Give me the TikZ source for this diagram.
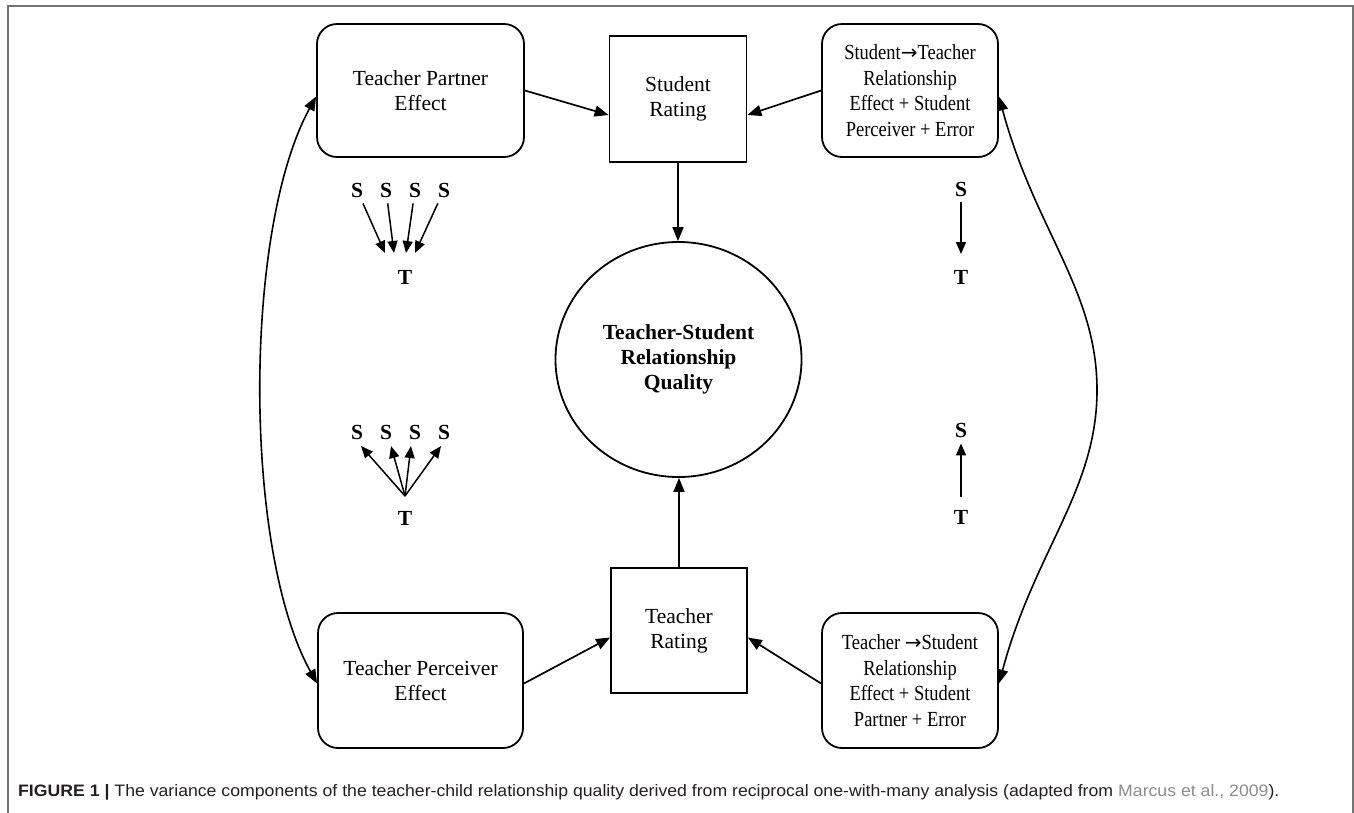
\documentclass[tikz,border=0pt]{standalone}
\usepackage{fontspec}
\usepackage{graphicx}
\setmainfont{Liberation Serif}
\newfontfamily\capfont{Liberation Sans}
\newfontfamily\condfont[FakeStretch=0.86]{Liberation Serif}
\newfontfamily\arrowfont{DejaVu Sans}
\newcommand{\rarr}{{\arrowfont\fontsize{20}{25}\selectfont →}}
\usetikzlibrary{arrows.meta,shapes.geometric,calc}
\definecolor{framegray}{RGB}{115,115,115}
\definecolor{captext}{RGB}{35,31,32}
\definecolor{linkgray}{RGB}{140,140,140}
\begin{document}
\begin{tikzpicture}[x=1pt,y=-1pt,
  arr/.style={-{Triangle[length=14pt,width=11pt]}, line width=1.7pt},
  smallarr/.style={-{Triangle[length=12pt,width=10pt]}, line width=1.5pt},
  dbl/.style={{Triangle[length=14pt,width=11pt]}-{Triangle[length=14pt,width=11pt]}, line width=1.6pt},
  boxtext/.style={align=center, font=\fontsize{21.5}{25}\selectfont, inner sep=0pt},
  rbox/.style={boxtext, draw, rounded corners=20pt, line width=1.8pt},
  cbox/.style={rbox, font=\condfont\fontsize{21.5}{25.5}\selectfont},
  sbox/.style={boxtext, draw, line width=1.8pt},
  oval/.style={draw, ellipse, line width=1.8pt, align=center, inner sep=0pt,
    font=\bfseries\fontsize{21.5}{25}\selectfont},
  letter/.style={font=\bfseries\fontsize{21.5}{25}\selectfont, inner sep=6pt}]
\useasboundingbox (0,0) rectangle (1354,812);
% frame
\draw[framegray, line width=1.5pt] (8,830) -- (8,6) -- (1353,6) -- (1353,830);

% boxes
\node[rbox, minimum width=207pt, minimum height=133pt] (tpe) at (420.5,90.5) {Teacher Partner\\Effect};
\node[sbox, minimum width=137pt, minimum height=126pt] (sr) at (678,99) {Student\\Rating};
\node[cbox, minimum width=176pt, minimum height=133pt] (ste) at (910,90.5) {Student\rarr Teacher\\Relationship\\Effect + Student\\Perceiver + Error};
\node[oval, minimum width=246pt, minimum height=235pt] (q) at (678.5,359.5) {Teacher-Student\\Relationship\\Quality};
\node[sbox, minimum width=136pt, minimum height=125pt] (tr) at (679,630.5) {Teacher\\Rating};
\node[rbox, minimum width=205pt, minimum height=135pt] (tpv) at (420.5,680.5) {Teacher Perceiver\\Effect};
\node[cbox, minimum width=176pt, minimum height=135pt] (tse) at (910,680.5) {Teacher \rarr Student\\Relationship\\Effect + Student\\Partner + Error};

% main arrows
\draw[arr] (tpe.east) -- ($(sr.west)+(0,16)$);
\draw[arr] (ste.west) -- ($(sr.east)+(0,16)$);
\draw[arr] (sr.south) -- (sr.south |- q.north);
\draw[arr] (tr.north) -- (tr.north |- q.south);
\draw[arr] ($(tpv.east)+(0,3)$) -- ($(tr.west)+(0,7)$);
\draw[arr] ($(tse.west)+(0,3)$) -- ($(tr.east)+(0,7)$);

% curved double arrows
\draw[dbl] ($(tpe.west)+(0,6)$) .. controls (243,230) and (243,550) .. ($(tpv.west)+(0,3)$);
\draw[dbl] ($(ste.east)+(0,6)$) .. controls (1035,230) and (1097,290) .. (1097,390)
  .. controls (1097,490) and (1035,550) .. ($(tse.east)+(0,3)$);

% S -> T (many), top left
\node[letter] (s1) at (357,190) {S};
\node[letter] (s2) at (386,190) {S};
\node[letter] (s3) at (415,190) {S};
\node[letter] (s4) at (444,190) {S};
\node[letter] (t1) at (405,277) {T};
\coordinate (a1) at (385,253);
\coordinate (a2) at (394,253);
\coordinate (a3) at (406,253);
\coordinate (a4) at (415,253);
\draw[smallarr] (s1) -- (a1);
\draw[smallarr] (s2) -- (a2);
\draw[smallarr] (s3) -- (a3);
\draw[smallarr] (s4) -- (a4);

% T -> S (many), bottom left
\node[letter] (s5) at (357,432) {S};
\node[letter] (s6) at (386,432) {S};
\node[letter] (s7) at (415,432) {S};
\node[letter] (s8) at (444,432) {S};
\node[letter] (t2) at (405,518) {T};
\coordinate (o2) at (405,496);
\coordinate (b1) at (361,446);
\coordinate (b2) at (391,446);
\coordinate (b3) at (411,446);
\coordinate (b4) at (441,446);
\draw[smallarr] (o2) -- (b1);
\draw[smallarr] (o2) -- (b2);
\draw[smallarr] (o2) -- (b3);
\draw[smallarr] (o2) -- (b4);

% right single S/T
\node[letter] (s9) at (961,189) {S};
\node[letter] (t9) at (961,277) {T};
\coordinate (c9) at (961,254);
\draw[smallarr] (s9) -- (c9);
\node[letter] (s10) at (961,430) {S};
\node[letter] (t10) at (961,517) {T};
\coordinate (c10) at (961,497);
\draw[smallarr] (c10) -- (s10);

% caption
\node[anchor=base west, inner sep=0pt, text=captext] (cap) at (18,796)
  {\resizebox{1261pt}{12pt}{\capfont\textbf{FIGURE 1 |} The variance components of the teacher-child relationship quality derived from reciprocal one-with-many analysis (adapted from \textcolor{linkgray}{Marcus et al., 2009}).}};
\end{tikzpicture}
\end{document}
